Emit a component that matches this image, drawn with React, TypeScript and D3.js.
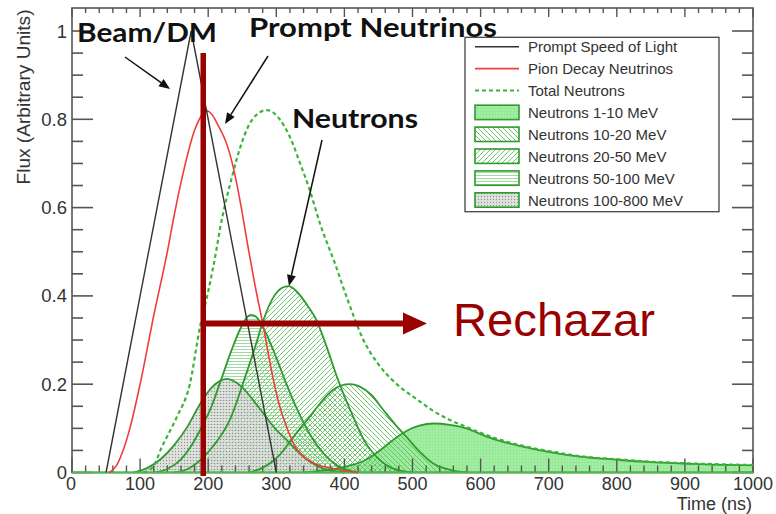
import React from "react";
import * as d3 from "d3";

// ---- data (time in ns, flux in arbitrary units) ----
const promptT = [50, 175, 300];
const promptV = [0, 1.0, 0];

const pionT = [55, 65, 75, 85, 100, 120, 140, 151, 165, 180, 190, 197, 205, 215, 227, 237, 248, 258, 268, 281, 295, 305, 315, 327, 340, 360, 379, 400, 420];
const pionV = [0, 0.015, 0.05, 0.1, 0.2, 0.355, 0.5, 0.59, 0.69, 0.775, 0.808, 0.82, 0.812, 0.785, 0.745, 0.69, 0.605, 0.515, 0.43, 0.33, 0.215, 0.15, 0.104, 0.06, 0.036, 0.018, 0.01, 0.004, 0];

const totalT = [105, 119, 132, 154, 173, 188, 200, 212, 217, 235, 250, 265, 286, 305, 320, 335, 349, 365, 386, 405, 428, 450, 470, 487, 501, 530, 555, 575, 600, 623, 650, 672, 710, 746, 800, 844, 900, 941, 1000];
const totalV = [0, 0.013, 0.058, 0.126, 0.2, 0.33, 0.41, 0.504, 0.549, 0.67, 0.75, 0.8, 0.821, 0.8, 0.76, 0.7, 0.64, 0.56, 0.474, 0.39, 0.3, 0.245, 0.21, 0.187, 0.172, 0.14, 0.119, 0.106, 0.09, 0.077, 0.065, 0.057, 0.046, 0.037, 0.03, 0.025, 0.021, 0.019, 0.017];

const n1to10T = [340, 370, 400, 428, 452, 470, 491, 510, 531, 555, 579, 600, 623, 650, 672, 710, 746, 800, 844, 900, 941, 1000];
const n1to10V = [0, 0.005, 0.013, 0.026, 0.05, 0.072, 0.094, 0.106, 0.111, 0.108, 0.1, 0.087, 0.074, 0.063, 0.055, 0.044, 0.036, 0.029, 0.024, 0.02, 0.018, 0.016];

const n10to20T = [260, 285, 305, 320, 335, 349, 365, 380, 395, 408, 422, 440, 457, 475, 491, 510, 531, 555, 580];
const n10to20V = [0, 0.015, 0.04, 0.07, 0.1, 0.126, 0.158, 0.183, 0.197, 0.2, 0.195, 0.175, 0.142, 0.108, 0.081, 0.048, 0.02, 0.006, 0];

const n20to50T = [150, 170, 190, 210, 232, 255, 270, 281, 295, 308, 318, 330, 345, 359, 375, 389, 413, 430, 447, 470, 500];
const n20to50V = [0, 0.008, 0.03, 0.065, 0.12, 0.22, 0.29, 0.345, 0.395, 0.418, 0.422, 0.41, 0.38, 0.345, 0.28, 0.217, 0.126, 0.07, 0.036, 0.01, 0];

const n50to100T = [120, 140, 160, 175, 188, 205, 220, 235, 247, 256, 263, 272, 285, 300, 315, 330, 350, 370, 390, 420];
const n50to100V = [0, 0.008, 0.03, 0.06, 0.096, 0.15, 0.215, 0.28, 0.325, 0.35, 0.357, 0.35, 0.315, 0.26, 0.2, 0.145, 0.085, 0.042, 0.015, 0];

const n100to800T = [90, 110, 130, 150, 170, 188, 205, 218, 227, 240, 255, 268, 281, 298, 315, 332, 349, 370, 400];
const n100to800V = [0, 0.01, 0.03, 0.062, 0.105, 0.155, 0.192, 0.208, 0.212, 0.205, 0.185, 0.16, 0.134, 0.1, 0.074, 0.047, 0.025, 0.008, 0];

const xTickLabels = ["0", "100", "200", "300", "400", "500", "600", "700", "800", "900", "1000"];
const yTickLabels = ["0", "0.2", "0.4", "0.6", "0.8", "1"];

const legendLabels = [
  "Prompt Speed of Light",
  "Pion Decay Neutrinos",
  "Total Neutrons",
  "Neutrons 1-10 MeV",
  "Neutrons 10-20 MeV",
  "Neutrons 20-50 MeV",
  "Neutrons 50-100 MeV",
  "Neutrons 100-800 MeV",
];

const W = 776;
const H = 514;
const L = 72, R = 753, T = 8, B = 472.5;

const x = d3.scaleLinear().domain([0, 1000]).range([L, R]);
const y = d3.scaleLinear().domain([0, 1]).range([B, 31]);

const zip = (ts: number[], vs: number[]) => ts.map((t, i) => [t, vs[i]] as [number, number]);

const lineSmooth = d3.line<[number, number]>().x(d => x(d[0])).y(d => y(d[1])).curve(d3.curveMonotoneX);
const lineStraight = d3.line<[number, number]>().x(d => x(d[0])).y(d => y(d[1]));
const areaSmooth = d3.area<[number, number]>().x(d => x(d[0])).y0(y(0)).y1(d => y(d[1])).curve(d3.curveMonotoneX);

const GREEN = "#2f9a2f";
const DARKRED = "#990000";

const bands = [
  { id: "p1", T: n1to10T, V: n1to10V },
  { id: "p10", T: n10to20T, V: n10to20V },
  { id: "p20", T: n20to50T, V: n20to50V },
  { id: "p50", T: n50to100T, V: n50to100V },
  { id: "p100", T: n100to800T, V: n100to800V },
];

function Arrow({ x1, y1, x2, y2, color, width, head, headW }: any) {
  const ang = Math.atan2(y2 - y1, x2 - x1);
  const bx = x2 - head * Math.cos(ang);
  const by = y2 - head * Math.sin(ang);
  const px = -Math.sin(ang) * headW;
  const py = Math.cos(ang) * headW;
  return (
    <g>
      <line x1={x1} y1={y1} x2={bx} y2={by} stroke={color} strokeWidth={width} />
      <polygon points={`${x2},${y2} ${bx + px},${by + py} ${bx - px},${by - py}`} fill={color} />
    </g>
  );
}

export default function App() {
  const xMinor = d3.range(0, 1001, 20);
  const yMinor = d3.range(0, 1.0001, 0.05);
  const axisFont = "'Liberation Sans', Arial, sans-serif";
  const boldFont = "Lato, 'Open Sans', sans-serif";

  const legX0 = 475, legX1 = 519, legTextX = 528;
  const legRowY = (i: number) => 46.7 + i * 21.9;

  return (
    <svg width={W} height={H} style={{ position: "absolute", left: 0, top: 0, background: "#fff" }}>
      <defs>
        <pattern id="p1" patternUnits="userSpaceOnUse" width="3" height="3">
          <rect width="3" height="3" fill="#a2eea2" />
          <path d="M0,0H3M0,0V3" stroke="#86dc86" strokeWidth="0.6" />
        </pattern>
        <pattern id="p10" patternUnits="userSpaceOnUse" width="5" height="5">
          <path d="M0,0L5,5M-1,4L1,6M4,-1L6,1" stroke="#5fbf5f" strokeWidth="0.9" />
        </pattern>
        <pattern id="p20" patternUnits="userSpaceOnUse" width="5" height="5">
          <path d="M0,5L5,0M-1,1L1,-1M4,6L6,4" stroke="#5fbf5f" strokeWidth="0.9" />
        </pattern>
        <pattern id="p50" patternUnits="userSpaceOnUse" width="4" height="3">
          <path d="M0,1.5H4" stroke="#86cf86" strokeWidth="0.8" />
        </pattern>
        <pattern id="p100" patternUnits="userSpaceOnUse" width="3" height="3">
          <rect width="3" height="3" fill="#d6d9d6" opacity="0.75" />
          <circle cx="1.5" cy="1.5" r="0.7" fill="#8f948f" />
        </pattern>
      </defs>

      {/* neutron energy bands: fills */}
      {bands.map(b => (
        <path key={b.id + "f"} d={areaSmooth(zip(b.T, b.V)) || ""} fill={`url(#${b.id})`} />
      ))}

      {/* frame */}
      <rect x={L} y={T} width={R - L} height={B - T} fill="none" stroke="#555" strokeWidth={1.6} />

      {/* left / right axis ticks */}
      {yMinor.map((v, i) => {
        const major = i % 4 === 0;
        const len = major ? 21 : 11;
        return (
          <g key={"yt" + i} stroke="#555" strokeWidth={1.6}>
            <line x1={L} x2={L + len} y1={y(v)} y2={y(v)} />
            <line x1={R} x2={R - len} y1={y(v)} y2={y(v)} />
          </g>
        );
      })}
      {/* bottom / top axis ticks */}
      {xMinor.map((t, i) => {
        const major = i % 5 === 0;
        return (
          <g key={"xt" + i} stroke="#555" strokeWidth={1.4}>
            <line x1={x(t)} x2={x(t)} y1={B} y2={B - (major ? 14 : 7)} />
            <line x1={x(t)} x2={x(t)} y1={T} y2={T + (major ? 9 : 5)} />
          </g>
        );
      })}

      {/* band outlines */}
      {bands.map(b => (
        <path key={b.id + "l"} d={lineSmooth(zip(b.T, b.V)) || ""} fill="none" stroke={GREEN} strokeWidth={1.8} />
      ))}
      <line x1={L} x2={R} y1={B} y2={B} stroke="#4cbb4c" strokeWidth={2} />

      {/* total neutrons */}
      <path d={lineSmooth(zip(totalT, totalV)) || ""} fill="none" stroke="#3cb43c" strokeWidth={2.2} strokeDasharray="4,3" />
      {/* pion decay neutrinos */}
      <path d={lineSmooth(zip(pionT, pionV)) || ""} fill="none" stroke="#f03c3c" strokeWidth={1.6} />
      {/* prompt speed of light */}
      <path d={lineStraight(zip(promptT, promptV)) || ""} fill="none" stroke="#333" strokeWidth={1.4} />

      {/* tick labels */}
      {xTickLabels.map((s, i) => (
        <text key={"xl" + i} x={x(i * 100) - (i === 0 ? 1 : 0)} y={490} fontFamily={axisFont} fontSize={18} fill="#333" textAnchor="middle">{s}</text>
      ))}
      {yTickLabels.map((s, i) => (
        <text key={"yl" + i} x={67} y={y(i * 0.2)} fontFamily={axisFont} fontSize={18.5} fill="#333" textAnchor="end" dominantBaseline="central">{s}</text>
      ))}
      <text x={752} y={510} fontFamily={axisFont} fontSize={18} fill="#333" textAnchor="end">Time (ns)</text>
      <text transform="translate(30,97) rotate(-90)" fontFamily={axisFont} fontSize={18.5} fill="#333" textAnchor="middle" textLength={175} lengthAdjust="spacingAndGlyphs">Flux (Arbitrary Units)</text>

      {/* legend */}
      <rect x={465} y={37.3} width={254} height={174.4} fill="#fff" stroke="#444" strokeWidth={1.3} />
      <line x1={legX0} x2={legX1} y1={legRowY(0)} y2={legRowY(0)} stroke="#333" strokeWidth={1.4} />
      <line x1={legX0} x2={legX1} y1={legRowY(1)} y2={legRowY(1)} stroke="#f03c3c" strokeWidth={1.6} />
      <line x1={legX0} x2={legX1} y1={legRowY(2)} y2={legRowY(2)} stroke="#3cb43c" strokeWidth={2} strokeDasharray="4,3" />
      {bands.map((b, i) => (
        <rect key={"lb" + b.id} x={legX0} y={legRowY(i + 3) - 7.2} width={legX1 - legX0} height={14.4} fill={`url(#${b.id})`} stroke={GREEN} strokeWidth={1.6} />
      ))}
      {legendLabels.map((s, i) => (
        <text key={"lt" + i} x={legTextX} y={legRowY(i)} fontFamily={axisFont} fontSize={15} fill="#333" dominantBaseline="central">{s}</text>
      ))}

      {/* annotations */}
      <text x={77} y={42} fontFamily={boldFont} fontWeight={700} fontSize={26} fill="#111" textLength={140} lengthAdjust="spacingAndGlyphs">Beam/DM</text>
      <text x={249} y={37} fontFamily={boldFont} fontWeight={700} fontSize={26} fill="#111" textLength={248} lengthAdjust="spacingAndGlyphs">Prompt Neutrinos</text>
      <text x={292} y={128} fontFamily={boldFont} fontWeight={700} fontSize={27} fill="#111" textLength={126} lengthAdjust="spacingAndGlyphs">Neutrons</text>
      <Arrow x1={125} y1={57} x2={170} y2={89} color="#111" width={1.5} head={11} headW={4.5} />
      <Arrow x1={268} y1={56} x2={225} y2={124} color="#111" width={1.5} head={11} headW={4.5} />
      <Arrow x1={322} y1={140} x2={289} y2={286} color="#111" width={1.5} head={11} headW={4.5} />

      {/* cut marker */}
      <rect x={200.5} y={53} width={5.5} height={423} fill={DARKRED} />
      <rect x={203} y={320.5} width={202} height={6} fill={DARKRED} />
      <polygon points="403,312.5 427,323.5 403,334.5" fill={DARKRED} />
      <text x={453} y={336} fontFamily={axisFont} fontSize={46} fill={DARKRED} textLength={202} lengthAdjust="spacingAndGlyphs">Rechazar</text>
    </svg>
  );
}
